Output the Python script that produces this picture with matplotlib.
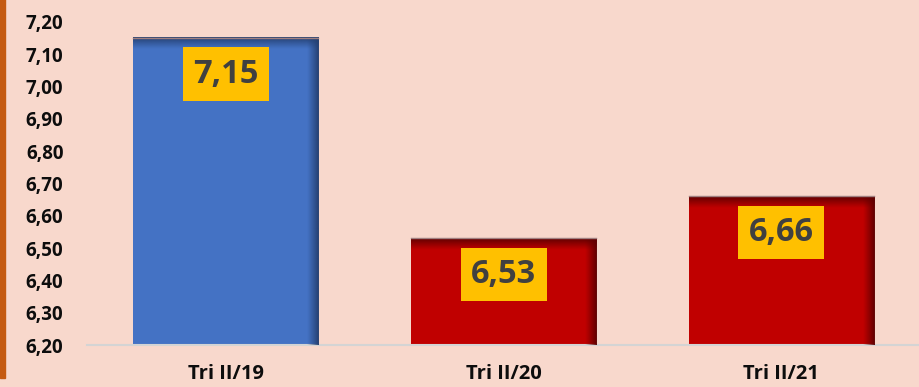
import numpy as np
import matplotlib.pyplot as plt
from matplotlib.patches import Rectangle

categories = ['Tri II/19', 'Tri II/20', 'Tri II/21']
values = [7.15, 6.53, 6.66]
bar_colors = ['#4472C4', '#C00000', '#C00000']
shade_colors = ['#243F70', '#5E0000', '#5E0000']

bg = '#F8D8CC'
font = 'Open Sans'

fig = plt.figure(figsize=(9.2, 3.87), dpi=100)
fig.set_facecolor(bg)
ax = fig.add_axes([0.0946, 0.1085, 0.9054, 0.8347])
ax.set_facecolor(bg)

x = np.arange(len(categories))
bars = ax.bar(x, [v - 6.2 for v in values], bottom=6.2, width=0.667,
              color=bar_colors, zorder=2)

ax.set_xlim(-0.5, 2.5)
ax.set_ylim(6.2, 7.2)

# inner shading along the top and right edges of each bar
n = 64
ramp = np.linspace(1, 0, n) ** 1.1
for b, sc in zip(bars, shade_colors):
    x0, w = b.get_x(), b.get_width()
    y1 = b.get_y() + b.get_height()
    rgb = np.array(plt.matplotlib.colors.to_rgb(sc))
    top = np.zeros((n, 1, 4))
    top[:, 0, :3] = rgb
    top[:, 0, 3] = ramp
    ax.imshow(top, extent=(x0, x0 + w, y1 - 0.035, y1), aspect='auto',
              origin='upper', zorder=3, interpolation='bilinear')
    side = np.zeros((1, n, 4))
    side[0, :, :3] = rgb
    side[0, :, 3] = ramp[::-1]
    ax.imshow(side, extent=(x0 + w - 0.04, x0 + w, b.get_y(), y1),
              aspect='auto', zorder=3, interpolation='bilinear')
    ax.plot([x0, x0 + w], [y1, y1], color='#A08080', lw=1, zorder=4)

for xi, v in zip(x, values):
    ax.annotate(f'{v:.2f}'.replace('.', ','), (xi, v), xytext=(0, -26),
                textcoords='offset points', ha='center', va='center',
                fontsize=23.5, fontweight='bold', family=font, color='#404040',
                bbox=dict(boxstyle='square,pad=0.32', fc='#FFC000', ec='none'),
                zorder=5)

ax.set_yticks(np.arange(6.2, 7.21, 0.1))
ax.set_yticklabels([f'{t:.2f}'.replace('.', ',') for t in np.arange(6.2, 7.21, 0.1)])
ax.set_xticks(x)
ax.set_xticklabels(categories)
ax.tick_params(axis='y', length=0, pad=17)
ax.tick_params(axis='x', length=0, pad=14)
for lab in ax.get_yticklabels():
    lab.set_fontsize(13.5)
for lab in ax.get_xticklabels():
    lab.set_fontsize(14.5)
for lab in ax.get_yticklabels() + ax.get_xticklabels():
    lab.set_fontfamily(font)
    lab.set_fontweight('bold')
    lab.set_color('#0D0D0D')

for s in ['top', 'right', 'left']:
    ax.spines[s].set_visible(False)
ax.spines['bottom'].set_color('#D4D4D4')
ax.spines['bottom'].set_linewidth(1.5)

# orange rule down the left edge
fig.patches.append(Rectangle((0, 9 / 387), 4.5 / 920, 1, transform=fig.transFigure,
                             color='#C55A11', zorder=1))

fig.savefig('out.png', dpi=100, facecolor=bg)
